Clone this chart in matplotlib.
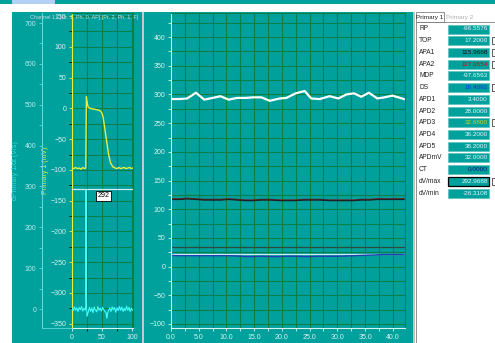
import matplotlib
matplotlib.use("Agg")
import matplotlib.pyplot as plt
from matplotlib.patches import Rectangle
from matplotlib.lines import Line2D
from matplotlib.ticker import MultipleLocator, FormatStrFormatter

plt.rcParams['font.family'] = ['Liberation Sans', 'DejaVu Sans']

# ---------------- data ----------------
title_left = "Channel 1 - [Pr. 1, Ph. 0, AP] [Pr. 2, Ph. 1, F]"

# left panel: action potential (inner axis, mV)
ap_x = [0, 3, 6, 9, 12, 15, 18, 21, 23, 24, 25.5, 27, 30, 35, 40, 45, 48, 50, 52,
        55, 58, 61, 64, 68, 72, 75, 78, 81, 84, 87, 90, 93, 96, 99, 101]
ap_y = [-97, -98, -96, -98, -97, -99, -96, -98, -97, 19, 8, 2, 0, -1, -2, -3, -5, -8, -15,
        -35, -55, -75, -88, -95, -97, -98, -96, -98, -97, -96, -98, -97, -96, -98, -97]

# left panel: derivative (outer axis, V/s)
dv_x = [0, 2, 4, 6, 8, 10, 12, 14, 16, 18, 20, 22, 23, 23.5, 24, 25, 27, 29, 31, 33,
        35, 37, 39, 41, 43, 45, 47, 49, 51, 53, 55, 57, 58, 59, 61, 63, 65, 67, 69,
        71, 73, 75, 77, 79, 81, 83, 85, 87, 89, 91, 93, 95, 97, 99, 101]
dv_y = [2, -4, 5, -3, 3, -6, 4, -2, 6, -5, 2, -3, 8, 292, 30, -18, -8, 4, -6, 3,
        -9, 5, -2, -7, 6, -3, 2, -5, 4, -2, -6, -10, -22, -12, -4, 3, -6, 5, -2,
        4, -8, 3, -4, 6, -3, 5, -6, 2, -4, 7, -3, 4, -6, 2, -3]

# middle panel: parameter trends over time
t = [0, 1.5, 2.9, 4.5, 6.0, 7.5, 8.9, 10.4, 11.9, 13.4, 14.9, 16.3, 17.8, 19.6, 20.8,
     22.5, 24.1, 25.3, 26.8, 28.6, 30.2, 31.6, 33.0, 34.3, 35.7, 37.2, 38.5, 39.9, 41.0, 42.0]
dvmax_trend = [292, 292, 293, 303, 291, 294, 297, 291, 294, 294, 295, 295, 289, 293, 294,
               302, 306, 293, 292, 297, 293, 300, 302, 296, 303, 293, 295, 298, 295, 292]
apa1_trend = [117, 117, 118, 117, 116, 116, 116, 117, 116, 115, 115, 116, 116, 115, 115,
              115, 116, 116, 116, 115, 115, 115, 115, 116, 116, 117, 117, 117, 117, 117]
apa2_trend = [118, 118, 119, 118, 117, 117, 117, 118, 117, 116, 116, 117, 117, 116, 116,
              116, 117, 117, 117, 116, 116, 116, 116, 117, 117, 118, 118, 118, 118, 118]
apd3_trend = [33.5, 33.5, 33.5, 33.5, 33.5, 33.5, 33.5, 33.5, 33.5, 33.5, 33.5, 33.5, 33.5, 33.5, 33.5,
              33.5, 33.5, 33.5, 33.5, 33.5, 33.5, 33.5, 33.5, 33.5, 33.5, 33.5, 33.5, 33.5, 33.5, 33.5]
top_trend = [22, 22, 22, 22, 22, 22, 22, 22, 22, 22, 22, 22, 22, 22, 22,
             22, 22, 22, 22, 22, 22, 22, 22, 22, 22, 22, 22, 22, 22, 22]
ds_trend = [19.5, 19, 19, 19, 19, 19, 19, 19, 18.5, 17.5, 17.5, 18, 17.5, 17.5, 18,
            18, 17.5, 17.5, 18, 18, 18, 18.5, 19, 19.5, 20, 20.5, 21, 21, 21, 21]

# right panel: results table
param_names = ["RP", "TOP", "APA1", "APA2", "MDP", "DS", "APD1", "APD2", "APD3",
               "APD4", "APD5", "APDmV", "CT", "dV/max", "dV/min"]
param_values = [-96.5576, 17.2000, 115.9668, 117.0654, -97.6563, 19.4092, 3.4000, 28.0000,
                32.6800, 36.2000, 38.2000, 32.0000, 0.0000, 292.9688, -26.3108]
param_colors = ["#E8F8F8", "#E8F8F8", "#101010", "#C01010", "#E8F8F8", "#1030F0", "#E8F8F8",
                "#E8F8F8", "#D8D020", "#E8F8F8", "#E8F8F8", "#E8F8F8", "#101080", "#E8F8F8", "#E8F8F8"]
param_checked = [False, True, True, True, False, True, False, False, True,
                 False, False, False, False, True, False]
tab_names = ["Primary 1", "Primary 2"]

# ---------------- styling ----------------
W, H = 495, 343
TEAL = "#00A09C"
GRID = "#0A8048"
PALE = "#D8F4F0"

fig = plt.figure(figsize=(W / 100, H / 100), dpi=100)
fig.patch.set_facecolor("white")


def box(x0, y0, x1, y1):
    return [x0 / W, 1 - y1 / H, (x1 - x0) / W, (y1 - y0) / H]


def frect(x0, y0, x1, y1, fc, ec="none", lw=0.0, z=0):
    fig.add_artist(Rectangle((x0 / W, 1 - y1 / H), (x1 - x0) / W, (y1 - y0) / H,
                             transform=fig.transFigure, facecolor=fc, edgecolor=ec,
                             linewidth=lw, zorder=z))


def ftext(x, y, s, **kw):
    fig.text(x / W, 1 - y / H, s, **kw)


# backgrounds
frect(0, 0, W, 3.5, TEAL)
frect(12, 0, 55, 3.5, "#B4D0F4")
frect(12, 12, 142, H, TEAL)
frect(142, 12, 144, H, "#C8C8C8")
frect(144, 12, 413, H, TEAL)
frect(413, 12, 415, H, "#C0C0C0")

# ---------------- left panel ----------------
ax_p = fig.add_axes(box(72, 13, 133, 328))
ax_p.set_facecolor(TEAL)
ax_p.set_xlim(0, 101.7)
ax_p.set_ylim(-357, 155)
ax_p.xaxis.set_major_locator(MultipleLocator(50))
ax_p.xaxis.set_minor_locator(MultipleLocator(25))
ax_p.yaxis.set_major_locator(MultipleLocator(50))
ax_p.yaxis.set_minor_locator(MultipleLocator(25))
ax_p.grid(True, which="both", color=GRID, lw=0.8)
ax_p.set_axisbelow(True)
for s in ["top", "right"]:
    ax_p.spines[s].set_color(GRID)
ax_p.spines["left"].set_color("#E8F040")
ax_p.spines["bottom"].set_color(PALE)
ax_p.tick_params(axis="both", which="both", labelsize=5, labelcolor=PALE, length=2.5,
                 width=0.6, pad=1.5)
ax_p.tick_params(axis="y", colors="#E8F040", labelcolor=PALE)
ax_p.tick_params(axis="x", colors=PALE)
ax_p.plot(ap_x, ap_y, color="#E4F040", lw=1.0, zorder=3)
ax_p.set_ylabel("Primary 1 (mV)", color="#E4F040", fontsize=5, labelpad=1)

ax_d = ax_p.twinx()
ax_d.set_ylim(-46.5, 724.5)
ax_d.yaxis.set_ticks_position("left")
ax_d.yaxis.set_label_position("left")
ax_d.spines["left"].set_position(("axes", -0.49))
ax_d.spines["left"].set_color("#60D8D8")
for s in ["top", "right", "bottom"]:
    ax_d.spines[s].set_visible(False)
ax_d.yaxis.set_major_locator(MultipleLocator(100))
ax_d.yaxis.set_minor_locator(MultipleLocator(50))
ax_d.tick_params(axis="y", which="both", labelsize=5, colors="#60D8D8", labelcolor="#B8ECEC",
                 length=2.5, width=0.6, pad=1.5)
ax_d.set_ylabel("dPrimary 1/dt (V/s)", color="#40D8E0", fontsize=5, labelpad=4)
ax_d.plot(dv_x, dv_y, color="#40FFFF", lw=0.8, zorder=3)
ax_d.axhline(param_values[13], color="#D8E8E8", lw=0.9)
ax_d.text(52, 277, f"{int(param_values[13])}", fontsize=5, ha="center", va="center",
          color="black", bbox=dict(boxstyle="square,pad=0.2", fc="white", ec="black", lw=0.6))
fig.add_artist(Line2D([42 / W, 72 / W], [1 - 328 / H, 1 - 328 / H], color="#60D8D8", lw=0.6,
                      transform=fig.transFigure))
ftext(30, 17, title_left, fontsize=4.0, color="#C8DCDC", va="center", ha="left", zorder=5)

# ---------------- middle panel ----------------
ax_m = fig.add_axes(box(171, 13, 405, 328))
ax_m.set_facecolor(TEAL)
ax_m.set_xlim(0, 42.2)
ax_m.set_ylim(-107, 442)
ax_m.xaxis.set_major_locator(MultipleLocator(5))
ax_m.xaxis.set_minor_locator(MultipleLocator(2.5))
ax_m.xaxis.set_major_formatter(FormatStrFormatter("%.1f"))
ax_m.yaxis.set_major_locator(MultipleLocator(50))
ax_m.yaxis.set_minor_locator(MultipleLocator(25))
ax_m.grid(True, which="both", color=GRID, lw=0.8)
ax_m.set_axisbelow(True)
for s in ["top", "right"]:
    ax_m.spines[s].set_color(GRID)
for s in ["left", "bottom"]:
    ax_m.spines[s].set_color(PALE)
ax_m.tick_params(axis="both", which="both", labelsize=5, colors=PALE, length=2.5, width=0.6,
                 pad=1.5)
ax_m.plot(t, apd3_trend, color="#2E4A3A", lw=0.9)
ax_m.plot(t, top_trend, color="#D0ECF0", lw=0.9)
ax_m.plot(t, ds_trend, color="#2040B0", lw=1.0)
ax_m.plot(t, apa2_trend, color="#702020", lw=1.0)
ax_m.plot(t, apa1_trend, color="#202020", lw=0.9)
ax_m.plot(t, dvmax_trend, color="white", lw=1.6)

# ---------------- right panel: table ----------------
# tabs
frect(416, 12.5, 444, 22, "white", ec="#808080", lw=0.6, z=2)
ftext(430, 17.5, tab_names[0], fontsize=4.6, color="#202020", ha="center", va="center", zorder=3)
ftext(446, 17.5, tab_names[1], fontsize=4.6, color="#B0B0B0", ha="left", va="center", zorder=3)
frect(416, 22, 497, 343, "none", ec="#808080", lw=0.6, z=2)

row0, drow = 29.0, 11.72
for i, (name, val, col, chk) in enumerate(zip(param_names, param_values, param_colors, param_checked)):
    yc = row0 + i * drow
    ftext(419, yc, name, fontsize=4.8, color="#202020", ha="left", va="center", zorder=3)
    ec = "black" if name == "dV/max" else "#5CC0BC"
    lw = 0.9 if name == "dV/max" else 0.5
    frect(448, yc - 4.5, 489, yc + 4.5, TEAL, ec=ec, lw=lw, z=2)
    ftext(488, yc, f"{val:.4f}", fontsize=4.6, color=col, ha="right", va="center", zorder=3)
    if chk:
        frect(492, yc - 3.5, 499, yc + 3.5, "white", ec="#404040", lw=0.6, z=2)

fig.savefig("out.png", dpi=100, facecolor=fig.get_facecolor())
